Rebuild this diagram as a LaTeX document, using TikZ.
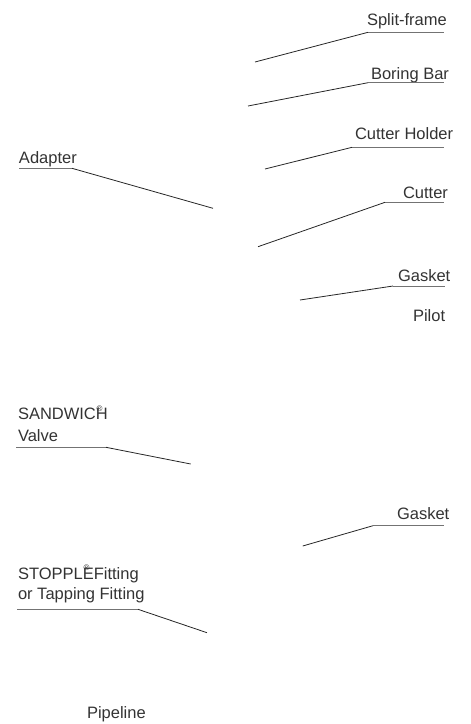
\documentclass[tikz,border=0pt]{standalone}
\usepackage{fontspec}
\setmainfont{Liberation Sans}
\begin{document}
\begin{tikzpicture}[x=1pt,y=-1pt,
  lbl/.style={anchor=base west,inner sep=0pt,outer sep=0pt,text=black!80,font=\fontsize{16.5}{22}\selectfont},
  uline/.style={draw=black!55,line width=0.8pt},
  leader/.style={draw=black!85,line width=0.8pt}]
\useasboundingbox (0,0) rectangle (471,724);
\newcommand{\regmark}{\makebox[0pt][l]{\kern0.05em\raisebox{0.5em}{\fontsize{8}{8}\selectfont ®}}}
% labels
\node[lbl] (split) at (367,25.3) {Split-frame};
\node[lbl] (boring) at (371,79.3) {Boring Bar};
\node[lbl] (holder) at (355,139.3) {Cutter Holder};
\node[lbl] (cutter) at (403,198.3) {Cutter};
\node[lbl] (adapter) at (19,163.3) {Adapter};
\node[lbl] (gasketA) at (398,281) {Gasket};
\node[lbl] (pilot) at (413,321.7) {Pilot};
\node[lbl] (sandwich) at (18,419.3) {SANDWIC\regmark H};
\node[lbl] (valve) at (18,441.7) {Valve};
\node[lbl] (gasketB) at (397,519.3) {Gasket};
\node[lbl] (stopple) at (18,579) {STOPPL\regmark EFitting};
\node[lbl] (tapping) at (18,599.5) {or Tapping Fitting};
\node[lbl] (pipeline) at (87,718.5) {Pipeline};
% underline ends and leader tips
\coordinate (s1) at (368,32.3); \coordinate (s2) at (444,32.3); \coordinate (st) at (255,62);
\coordinate (b1) at (368,82.7); \coordinate (b2) at (444,82.7); \coordinate (bt) at (248,106);
\coordinate (h1) at (352,147.3); \coordinate (h2) at (444,147.3); \coordinate (ht) at (265,169);
\coordinate (c1) at (385,202.3); \coordinate (c2) at (444,202.3); \coordinate (ct) at (258,246.7);
\coordinate (a1) at (19,168.3); \coordinate (a2) at (72,168.3); \coordinate (at2) at (213,208.3);
\coordinate (g1) at (393,286); \coordinate (g2) at (445,286); \coordinate (gt) at (300,300);
\coordinate (v1) at (16,447.3); \coordinate (v2) at (106,447.3); \coordinate (vt) at (190.7,464);
\coordinate (k1) at (373,525.7); \coordinate (k2) at (444,525.7); \coordinate (kt) at (302.7,546);
\coordinate (f1) at (17,609.3); \coordinate (f2) at (138,609.3); \coordinate (ft) at (207,632.7);
% underlines
\draw[uline] (s1) -- (s2);
\draw[uline] (b1) -- (b2);
\draw[uline] (h1) -- (h2);
\draw[uline] (c1) -- (c2);
\draw[uline] (a1) -- (a2);
\draw[uline] (g1) -- (g2);
\draw[uline] (v1) -- (v2);
\draw[uline] (k1) -- (k2);
\draw[uline] (f1) -- (f2);
% leaders
\draw[leader] (s1) -- (st);
\draw[leader] (b1) -- (bt);
\draw[leader] (h1) -- (ht);
\draw[leader] (c1) -- (ct);
\draw[leader] (a2) -- (at2);
\draw[leader] (g1) -- (gt);
\draw[leader] (v2) -- (vt);
\draw[leader] (k1) -- (kt);
\draw[leader] (f2) -- (ft);
\end{tikzpicture}
\end{document}
